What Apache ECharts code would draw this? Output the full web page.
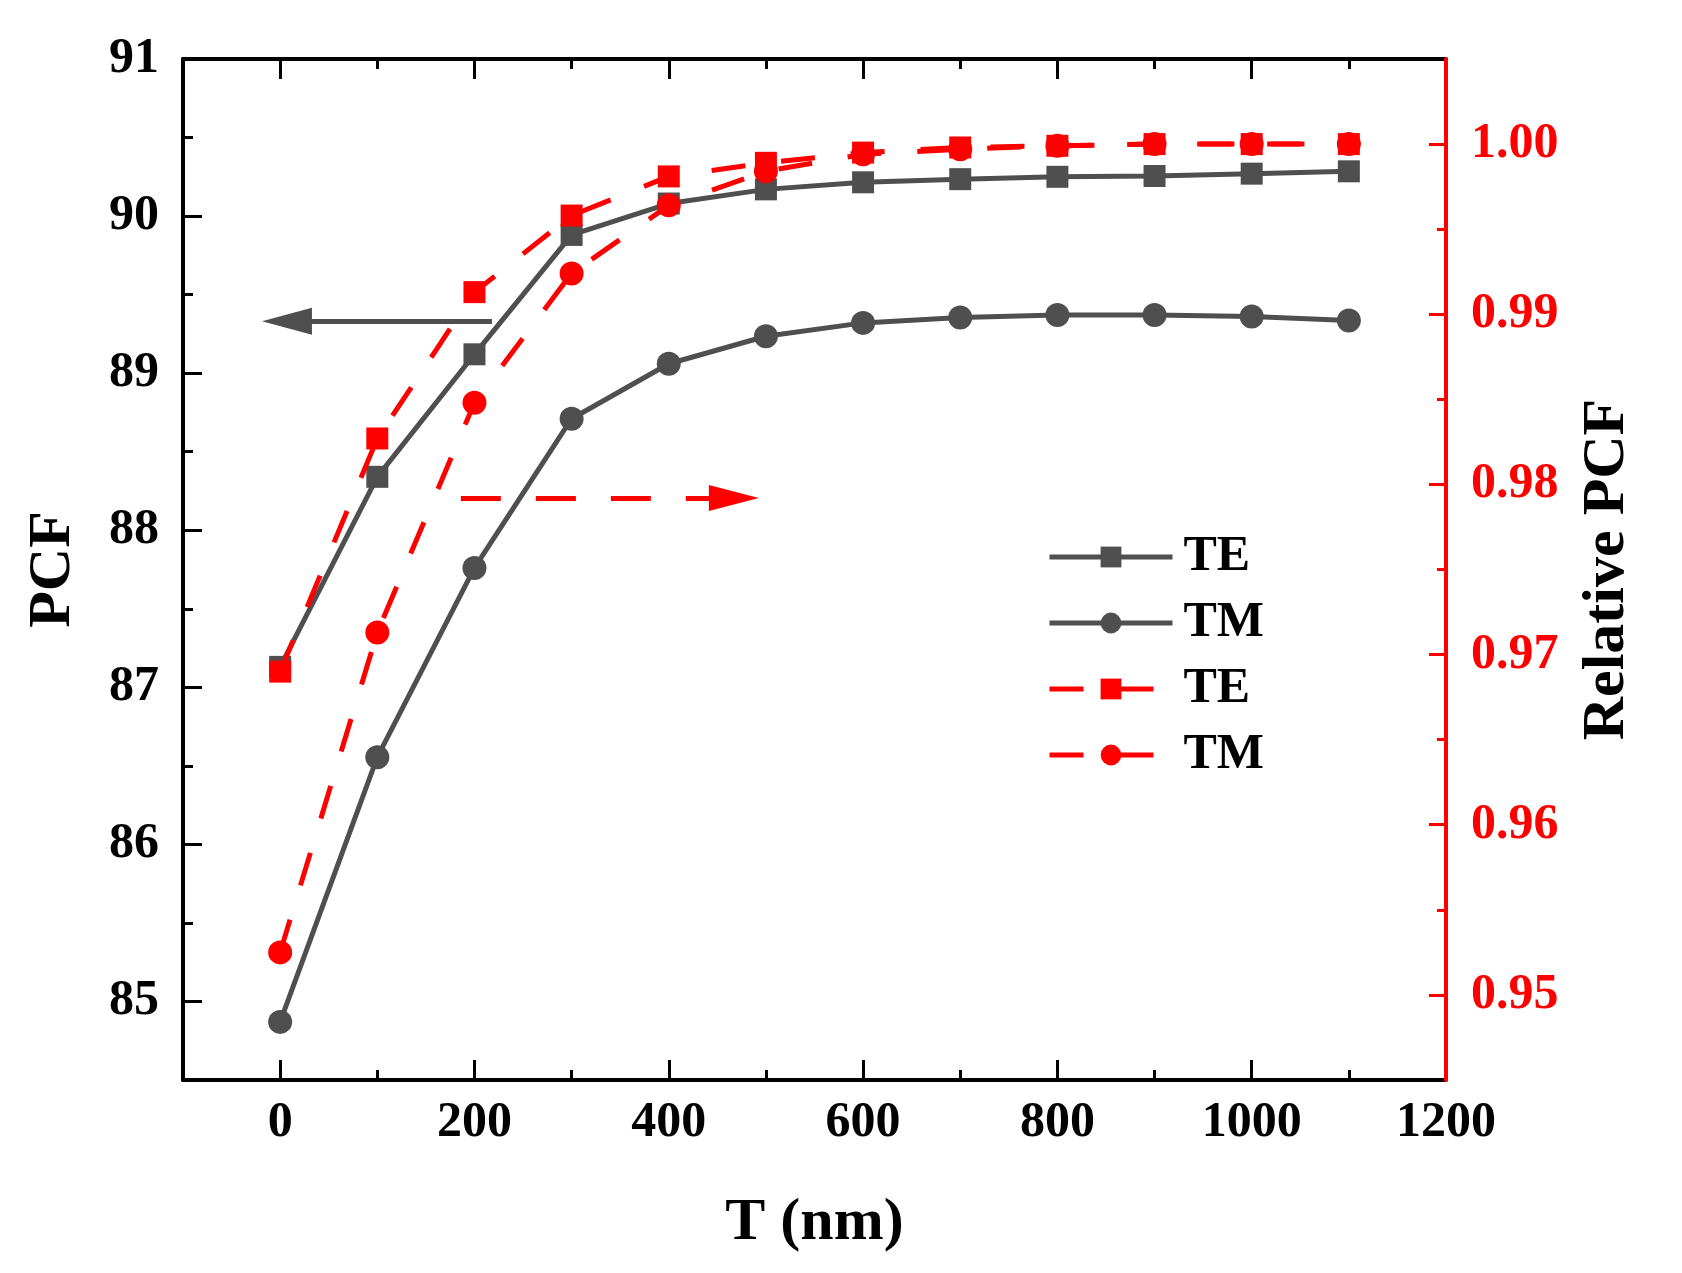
<!DOCTYPE html>
<html>
<head>
<meta charset="utf-8">
<script src="https://cdn.jsdelivr.net/npm/echarts@6/dist/echarts.min.js"></script>
<style>
html,body{margin:0;padding:0;background:#fff;}
#chart{width:1682px;height:1273px;}
</style>
</head>
<body>
<div id="chart"></div>
<script>
// ---- data ----
var thickness = [0, 100, 200, 300, 400, 500, 600, 700, 800, 900, 1000, 1100];
var pcfTE = [87.13, 88.34, 89.12, 89.88, 90.08, 90.17, 90.215, 90.235, 90.25, 90.255, 90.27, 90.285];
var pcfTM = [84.87, 86.555, 87.76, 88.71, 89.06, 89.235, 89.32, 89.355, 89.37, 89.37, 89.36, 89.335];
var relTE = [0.9690, 0.9827, 0.9913, 0.9958, 0.9981, 0.9989, 0.9995, 0.9998, 0.9999, 1.0000, 1.0000, 1.0000];
var relTM = [0.9525, 0.9713, 0.9848, 0.9924, 0.9964, 0.9984, 0.9994, 0.9997, 0.9999, 1.0000, 1.0000, 1.0000];

// tick labels
var xTickLabels = ['0', '200', '400', '600', '800', '1000', '1200'];
var leftTickLabels = ['85', '86', '87', '88', '89', '90', '91'];
var rightTickLabels = ['0.95', '0.96', '0.97', '0.98', '0.99', '1.00'];

// annotation arrows (data coordinates)
var leftArrow = {y: 89.33, from: 218, to: 7};
var rightArrow = {y: 0.9792, from: 186, to: 467};

var seriesNames = ['TE', 'TM', 'TE ', 'TM '];

// ---- layout ----
var W = 1682, H = 1273;
var G = {left: 183, right: 236, top: 59, bottom: 193};
var xRange = [-100, 1200], leftRange = [84.5, 91], rightRange = [0.945, 1.005];
var gw = W - G.left - G.right, gh = H - G.top - G.bottom;
var xTickMin = Number(xTickLabels[0]), xTickMax = Number(xTickLabels[xTickLabels.length - 1]);
var lTickMin = Number(leftTickLabels[0]), lTickMax = Number(leftTickLabels[leftTickLabels.length - 1]);
var rTickMin = Number(rightTickLabels[0]), rTickMax = Number(rightTickLabels[rightTickLabels.length - 1]);
var pxX = gw / (xRange[1] - xRange[0]);
var pxL = gh / (leftRange[1] - leftRange[0]);
var pxR = gh / (rightRange[1] - rightRange[0]);
// overlay grid whose axes start on labelled ticks (x ticks + left ticks)
var g1 = {
  left: G.left + (xTickMin - xRange[0]) * pxX,
  right: G.right + (xRange[1] - xTickMax) * pxX,
  top: G.top + (leftRange[1] - lTickMax) * pxL,
  bottom: G.bottom + (lTickMin - leftRange[0]) * pxL
};
// overlay grid for right ticks
var g2 = {
  left: G.left, right: G.right,
  top: G.top + (rightRange[1] - rTickMax) * pxR,
  bottom: G.bottom + (rTickMin - rightRange[0]) * pxR
};

// ---- styles ----
var FONT = "'Liberation Serif', 'Times New Roman', serif";
var GRAY = '#4f4f4f';
var RED = '#ff0000';
function pairs(xs, ys){ return xs.map(function(x,i){ return [x, ys[i]]; }); }
var labelStyle = {fontFamily: FONT, fontWeight: 'bold', fontSize: 50, color: '#000'};
var nameStyle = {fontFamily: FONT, fontWeight: 'bold', fontSize: 60, color: '#000'};
function lineOnly(color){ return {show: true, onZero: false, lineStyle: {color: color, width: 4}}; }
var noTick = {show: false};
var noLabel = {show: false};
var noSplit = {show: false};
function majorTick(color, len){ return {show: true, inside: true, length: len, lineStyle: {color: color, width: 3}}; }
function minorTick(color, len){ return {show: true, splitNumber: 2, length: len, lineStyle: {color: color, width: 3}}; }

var chart = echarts.init(document.getElementById('chart'), null, {renderer: 'canvas'});

var option = {
  backgroundColor: '#ffffff',
  animation: false,
  grid: [
    {left: G.left, right: G.right, top: G.top, bottom: G.bottom, containLabel: false, outerBoundsMode: 'none'},
    {left: g1.left, right: g1.right, top: g1.top, bottom: g1.bottom, containLabel: false, outerBoundsMode: 'none'},
    {left: g2.left, right: g2.right, top: g2.top, bottom: g2.bottom, containLabel: false, outerBoundsMode: 'none'}
  ],
  legend: {
    orient: 'vertical',
    left: 1042, top: 527,
    itemWidth: 123, itemHeight: 26, itemGap: 16,
    data: seriesNames,
    formatter: function(n){ return n.trim(); },
    lineStyle: {width: 5},
    textStyle: {fontFamily: FONT, fontWeight: 'bold', fontSize: 50, color: '#000', padding: [0,0,0,6]},
    selectedMode: false
  },
  xAxis: [
    { // 0: main data axis, bottom frame line
      gridIndex: 0, type: 'value', position: 'bottom', min: xRange[0], max: xRange[1],
      axisLine: lineOnly('#000'), axisTick: noTick, axisLabel: noLabel, splitLine: noSplit,
      name: 'T (nm)', nameLocation: 'middle', nameGap: 113, nameTextStyle: nameStyle
    },
    { // 1: top frame line
      gridIndex: 0, type: 'value', position: 'top', min: xRange[0], max: xRange[1],
      axisLine: lineOnly('#000'), axisTick: noTick, axisLabel: noLabel, splitLine: noSplit
    },
    { // 2: bottom ticks + labels
      gridIndex: 1, type: 'value', position: 'bottom', offset: g1.bottom - G.bottom,
      min: xTickMin, max: xTickMax, interval: 200,
      axisLine: {show: false, onZero: false},
      axisTick: majorTick('#000', 20), minorTick: minorTick('#000', 10),
      axisLabel: Object.assign({show: true, margin: 18,
        formatter: function(v){ var s = String(v); return xTickLabels.indexOf(s) >= 0 ? s : ''; }}, labelStyle),
      splitLine: noSplit, minorSplitLine: noSplit
    },
    { // 3: top ticks
      gridIndex: 1, type: 'value', position: 'top', offset: 0,
      min: xTickMin, max: xTickMax, interval: 200,
      axisLine: {show: false, onZero: false},
      axisTick: majorTick('#000', 20), minorTick: minorTick('#000', 10),
      axisLabel: noLabel, splitLine: noSplit
    },
    { // 4: hidden x for right-tick grid
      gridIndex: 2, type: 'value', min: xRange[0], max: xRange[1], show: false
    }
  ],
  yAxis: [
    { // 0: left data axis (frame line)
      gridIndex: 0, type: 'value', position: 'left', min: leftRange[0], max: leftRange[1],
      axisLine: lineOnly('#000'), axisTick: noTick, axisLabel: noLabel, splitLine: noSplit,
      name: 'PCF', nameLocation: 'middle', nameGap: 100, nameRotate: 90, nameTextStyle: nameStyle
    },
    { // 1: right data axis (red frame line, on top of the corner ticks)
      gridIndex: 0, type: 'value', position: 'right', min: rightRange[0], max: rightRange[1], z: 5,
      axisLine: lineOnly(RED), axisTick: noTick, axisLabel: noLabel, splitLine: noSplit,
      name: 'Relative PCF', nameLocation: 'middle', nameGap: 131, nameRotate: 90, nameTextStyle: nameStyle
    },
    { // 2: left ticks + labels
      gridIndex: 1, type: 'value', position: 'left', offset: g1.left - G.left,
      min: lTickMin, max: lTickMax, interval: 1,
      axisLine: {show: false, onZero: false},
      axisTick: majorTick('#000', 19), minorTick: minorTick('#000', 10),
      axisLabel: Object.assign({show: true, margin: 24,
        formatter: function(v){ var s = String(v); return leftTickLabels.indexOf(s) >= 0 ? s : ''; }}, labelStyle),
      splitLine: noSplit
    },
    { // 3: right ticks + labels
      gridIndex: 2, type: 'value', position: 'right', offset: 0,
      min: rTickMin, max: rTickMax, interval: 0.01,
      axisLine: {show: false, onZero: false},
      axisTick: majorTick(RED, 17), minorTick: minorTick(RED, 9),
      axisLabel: Object.assign({}, labelStyle, {show: true, margin: 25, color: RED,
        formatter: function(v){ var s = Number(v).toFixed(2); return rightTickLabels.indexOf(s) >= 0 ? s : ''; }}),
      splitLine: noSplit
    }
  ],
  series: [
    {
      name: seriesNames[0], type: 'line', xAxisIndex: 0, yAxisIndex: 0,
      data: pairs(thickness, pcfTE),
      symbol: 'rect', symbolSize: 22, showAllSymbol: true,
      itemStyle: {color: GRAY}, lineStyle: {color: GRAY, width: 5},
      z: 2,
      markLine: {
        silent: true, animation: false,
        symbol: ['none', 'triangle'], symbolSize: [27, 50],
        label: {show: false},
        lineStyle: {color: GRAY, width: 5, type: 'solid'},
        emphasis: {disabled: true},
        data: [[{coord: [leftArrow.from, leftArrow.y]}, {coord: [leftArrow.to, leftArrow.y]}]]
      }
    },
    {
      name: seriesNames[1], type: 'line', xAxisIndex: 0, yAxisIndex: 0,
      data: pairs(thickness, pcfTM),
      symbol: 'circle', symbolSize: 24, showAllSymbol: true,
      itemStyle: {color: GRAY}, lineStyle: {color: GRAY, width: 5},
      z: 2
    },
    {
      name: seriesNames[2], type: 'line', xAxisIndex: 0, yAxisIndex: 1,
      data: pairs(thickness, relTE),
      symbol: 'rect', symbolSize: 22, showAllSymbol: true,
      itemStyle: {color: RED}, lineStyle: {color: RED, width: 5, type: [34, 36]},
      z: 3,
      markLine: {
        silent: true, animation: false,
        symbol: ['none', 'triangle'], symbolSize: [26, 50],
        label: {show: false},
        lineStyle: {color: RED, width: 5, type: [40, 35]},
        emphasis: {disabled: true},
        data: [[{coord: [rightArrow.from, rightArrow.y]}, {coord: [rightArrow.to, rightArrow.y]}]]
      }
    },
    {
      name: seriesNames[3], type: 'line', xAxisIndex: 0, yAxisIndex: 1,
      data: pairs(thickness, relTM),
      symbol: 'circle', symbolSize: 24, showAllSymbol: true,
      itemStyle: {color: RED}, lineStyle: {color: RED, width: 5, type: [34, 36]},
      z: 3
    }
  ]
};
chart.setOption(option);
</script>
</body>
</html>
